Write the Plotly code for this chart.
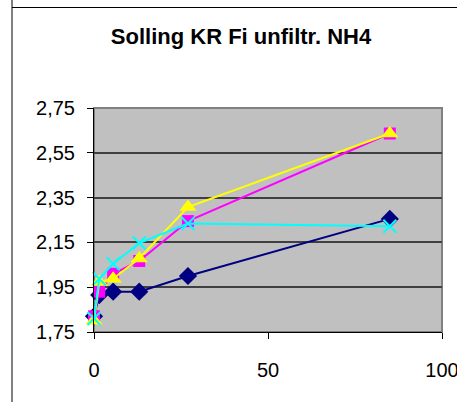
import plotly.graph_objects as go

# Sample time points and NH4 values for the four series
x_vals = [0, 1.5, 5.5, 13, 27, 85]
series_a = [1.82, 1.915, 1.93, 1.93, 2.00, 2.255]
series_b = [1.82, 1.93, 2.01, 2.067, 2.245, 2.636]
series_c = [1.80, 1.973, 1.988, 2.078, 2.308, 2.636]
series_d = [1.81, 1.988, 2.055, 2.147, 2.234, 2.222]

y_ticks = [1.75, 1.95, 2.15, 2.35, 2.55, 2.75]
x_ticks = [0, 50, 100]

W, H = 457, 402
L, R, T, B = 94, 15, 108, 70
pw, ph = W - L - R, H - T - B

fig = go.Figure()

styles = [
    (series_a, "#000080", "diamond", 14, None),
    (series_b, "#FF00FF", "square", 12, None),
    (series_c, "#FFFF00", "triangle-up", 15, None),
    (series_d, "#00FFFF", "x-thin", 13, 2),
]
for ys, col, sym, size, lw in styles:
    marker = dict(symbol=sym, size=size, color=col)
    if lw:
        marker["line"] = dict(color=col, width=lw)
    else:
        marker["line"] = dict(width=0)
    fig.add_trace(go.Scatter(
        x=x_vals, y=ys, mode="lines+markers",
        line=dict(color=col, width=2), marker=marker,
        showlegend=False, cliponaxis=False,
    ))

# outer chart frame: top edge and left edge
fx0 = (12 - L) / pw
fy1 = (H - B - 7.5) / ph
fig.add_shape(type="line", xref="paper", yref="paper",
              x0=fx0, x1=1.5, y0=fy1, y1=fy1, line=dict(color="black", width=1))
fig.add_shape(type="line", xref="paper", yref="paper",
              x0=fx0, x1=fx0, y0=-0.8, y1=2.0, line=dict(color="black", width=1))
# plot area border
fig.add_shape(type="rect", xref="paper", yref="paper", x0=0, x1=1, y0=0, y1=1,
              line=dict(color="#808080", width=2), layer="below")

fig.update_layout(
    width=W, height=H,
    margin=dict(l=L, r=R, t=T, b=B),
    paper_bgcolor="white", plot_bgcolor="#C0C0C0",
    separators=",.",
    font=dict(family="Liberation Sans, Arial", size=20, color="black"),
    title=dict(text="<b>Solling KR Fi unfiltr. NH4</b>", x=241 / W, xanchor="center",
               y=1 - 36 / H, yanchor="middle", font=dict(size=22)),
    xaxis=dict(range=[0, 100], tickvals=x_ticks, ticks="outside", ticklen=6,
               tickcolor="black", showline=True, linecolor="black", linewidth=1,
               showgrid=False, zeroline=False, ticklabelstandoff=14,
               ticklabeloverflow="allow", automargin=False),
    yaxis=dict(range=[1.75, 2.75], tickvals=y_ticks, tickformat=".2f",
               ticks="outside", ticklen=6, tickcolor="black", showline=True,
               linecolor="black", linewidth=1, showgrid=True,
               gridcolor="#404040", gridwidth=1.5, zeroline=False,
               ticklabelstandoff=8, automargin=False),
)

fig.write_html("out.html")
